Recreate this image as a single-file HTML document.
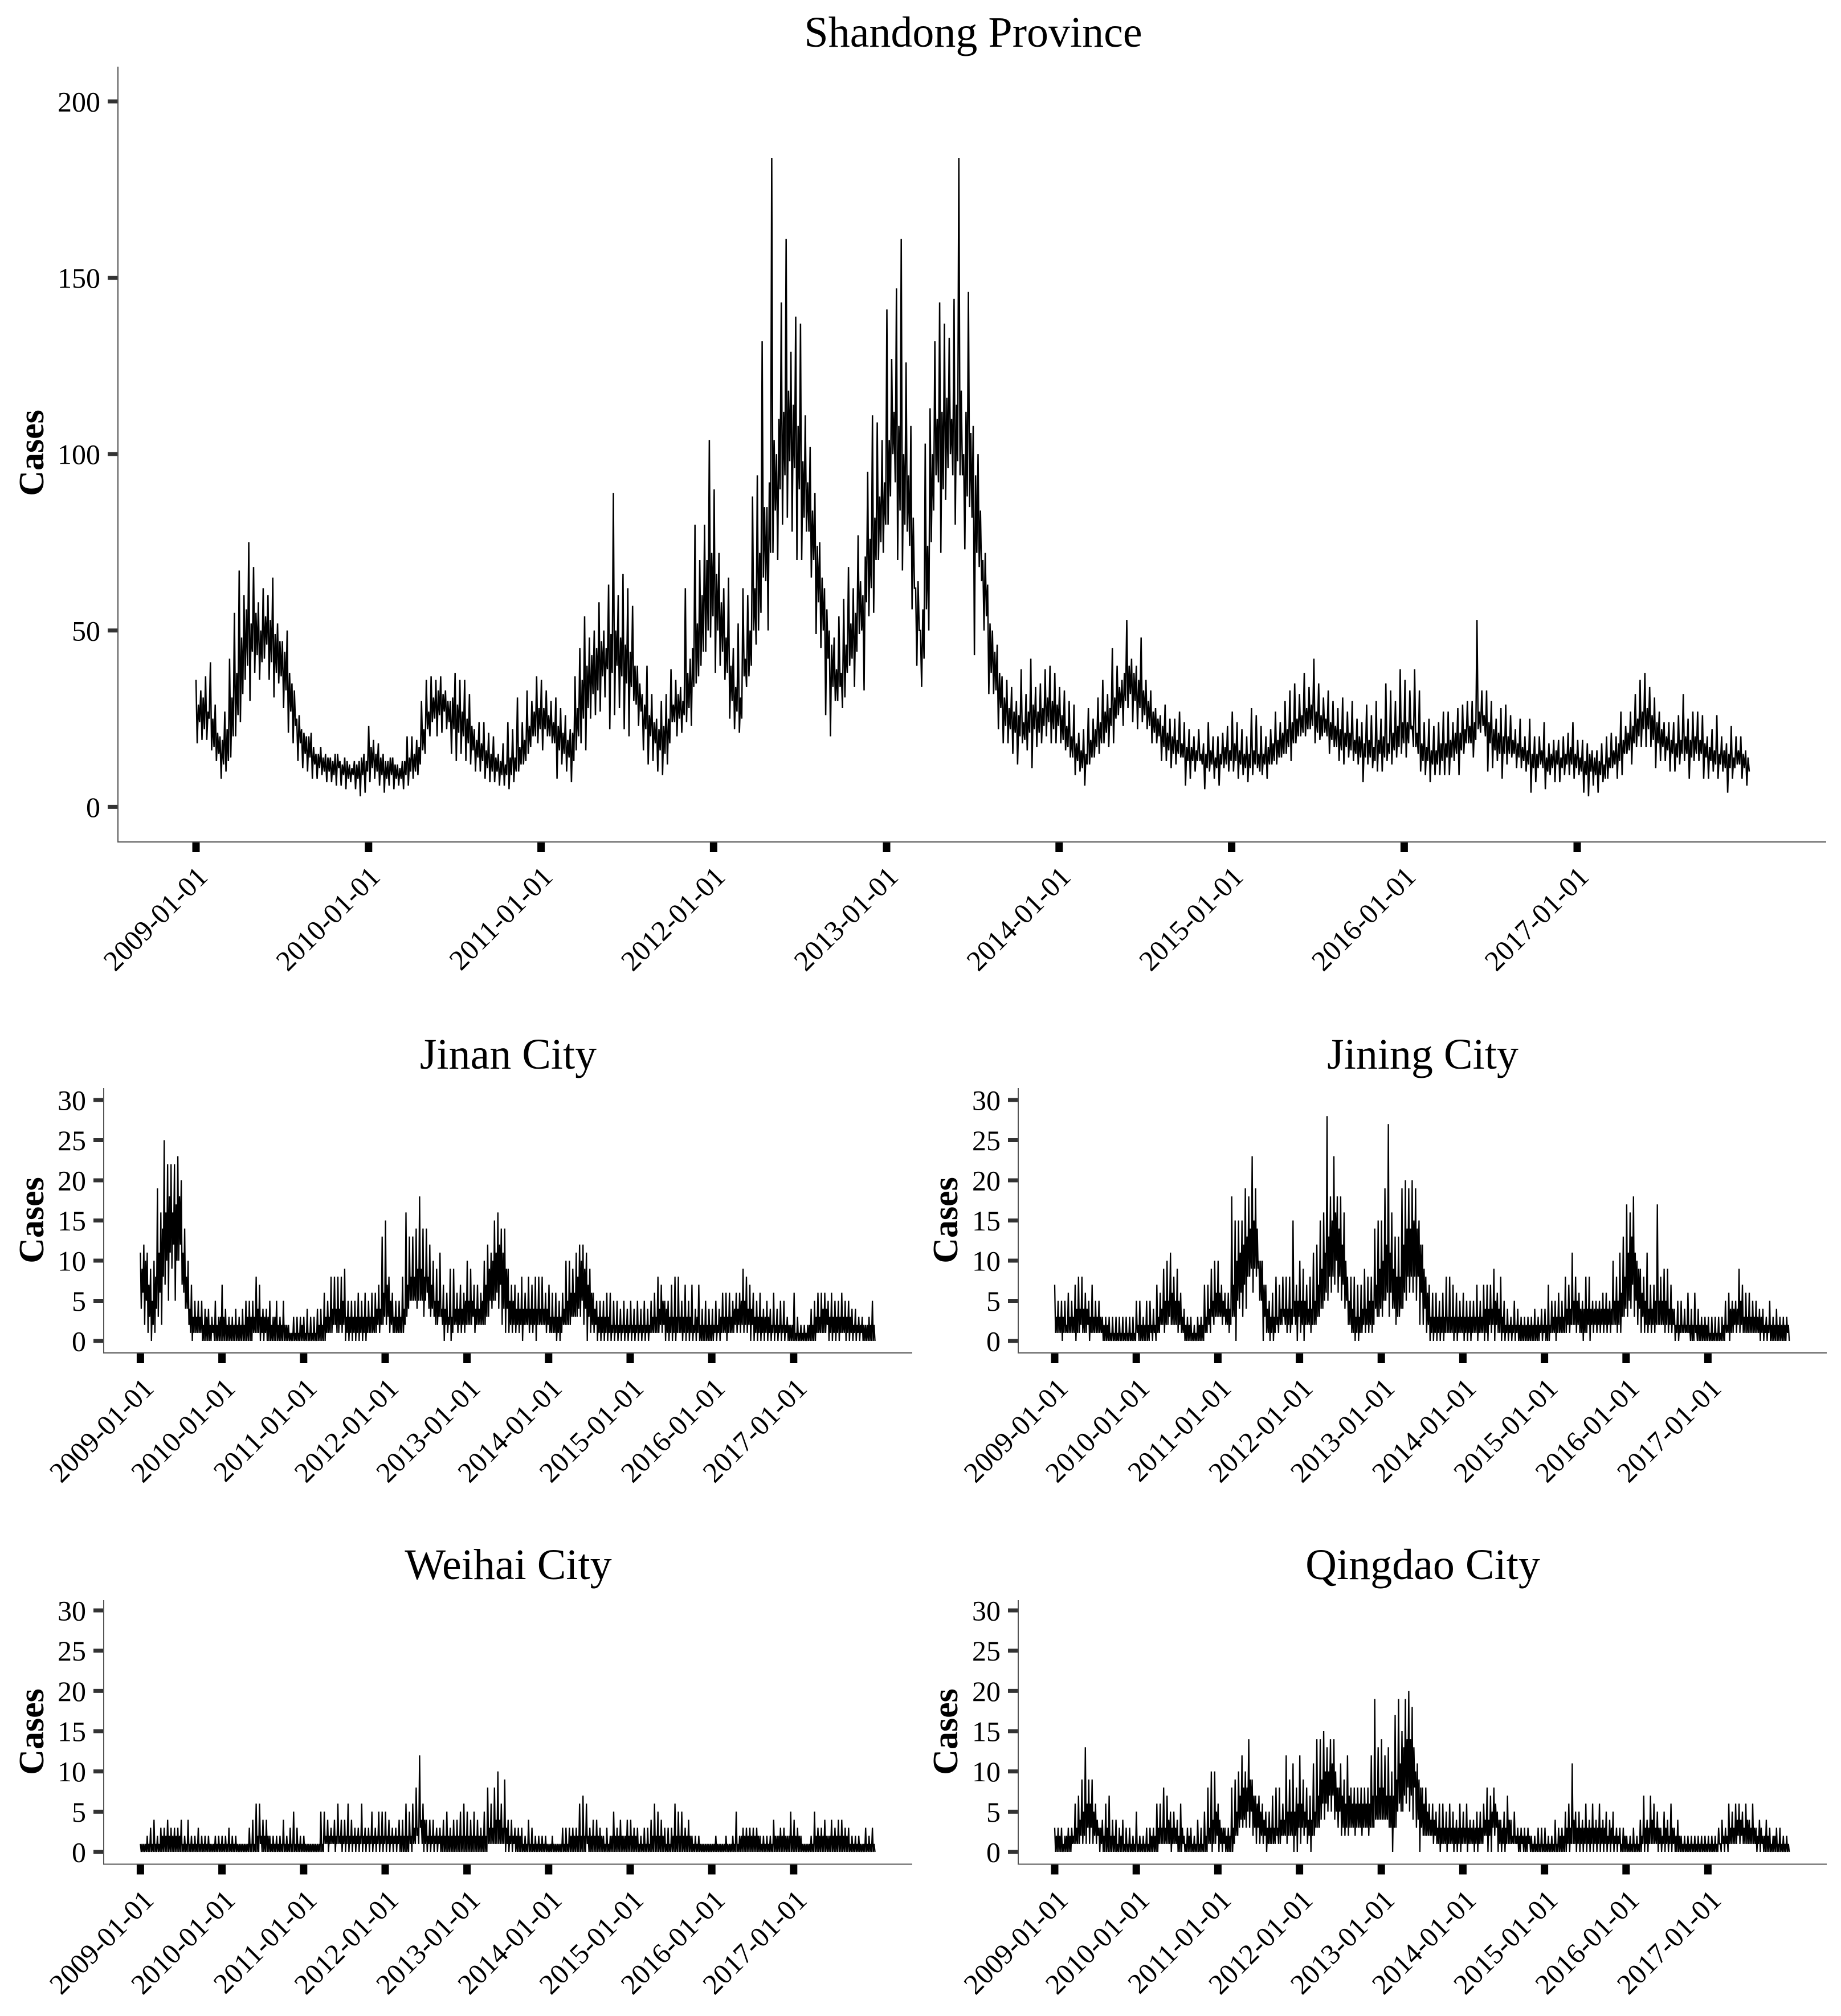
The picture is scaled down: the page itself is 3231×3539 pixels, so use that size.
<!DOCTYPE html>
<html lang="en">
<head>
<meta charset="utf-8">
<title>Cases by region, 2009–2017</title>
<style>
html,body{margin:0;padding:0;background:#fff;width:3231px;height:3539px;overflow:hidden}
svg{display:block}
text{font-family:"Liberation Serif",serif;fill:#000}
</style>
</head>
<body>
<svg id="chart" xmlns="http://www.w3.org/2000/svg" width="3231" height="3539" viewBox="0 0 3231 3539"></svg>
<script>
const xTickLabels = ["2009-01-01","2010-01-01","2011-01-01","2012-01-01","2013-01-01","2014-01-01","2015-01-01","2016-01-01","2017-01-01"];
const provinceYTicks = [0,50,100,150,200];
const cityYTicks = [0,5,10,15,20,25,30];
const seriesStart = "2009-01-01";
const seriesEnd = "2017-12-31";

/* Each *Cases array: high,low readings of the outer spikes, evenly spaced through the period.
   Each *Dense array: high,low readings of the tightly packed middle of the same daily trace. */
const shandongCases = [
36,18,33,19,37,19,41,16,29,13,20,8,27,10,42,14,55,20,67,24,60,36,75,30,68,38,58,36,62,42,60,36,65,31,52,35,47,28,50,21,35,18,25,13,22,11,20,10,21,8,15,8,17,9,15,7,14,7,15,6,13,6,14,5,12,7,13,5,13,3,15,4,
23,7,19,8,18,6,15,4,13,6,14,5,12,6,13,5,20,6,20,8,19,9,30,16,36,22,37,24,36,20,37,21,33,22,30,15,38,13,36,15,36,13,32,12,22,10,24,10,24,8,21,7,20,7,15,6,18,6,24,5,22,7,31,10,24,12,33,15,30,20,37,18,
36,16,33,20,30,18,31,8,28,12,26,10,22,7,37,16,45,18,54,16,48,25,50,26,58,27,50,31,63,22,89,26,60,28,66,22,62,20,57,30,40,23,32,16,40,12,32,13,25,10,30,9,32,12,39,24,36,20,34,21,62,24,42,23,80,35,70,40,80,44,104,48,
90,38,72,40,62,36,65,25,45,22,52,21,62,37,60,37,88,50,94,50,132,65,85,50,184,72,100,70,143,80,161,82,129,78,139,70,137,70,111,78,102,65,89,49,75,45,62,26,50,20,48,30,54,34,59,31,68,40,62,34,77,49,60,33,95,54,111,55,109,70,104,72,
141,80,127,100,147,70,161,67,126,78,108,56,62,40,50,34,103,56,113,75,132,94,143,72,137,87,133,100,144,80,184,94,100,73,146,85,108,43,100,68,70,50,63,32,50,32,46,22,37,18,36,18,34,15,30,12,39,18,32,16,42,11,34,17,35,18,39,20,40,18,38,18,
34,18,33,16,30,14,29,9,21,10,22,6,28,12,25,14,31,15,36,18,32,17,45,18,40,26,36,23,53,28,42,24,40,22,48,24,36,22,33,18,28,18,26,13,29,13,25,11,25,12,27,14,24,6,22,8,20,10,22,13,18,5,24,10,20,8,20,6,21,11,23,10,
27,10,24,8,22,9,20,7,28,9,26,11,23,9,20,8,22,12,27,12,24,14,30,15,33,13,35,18,32,20,38,20,34,22,42,18,35,19,31,21,33,15,30,17,28,13,31,12,27,14,30,13,25,12,24,7,29,12,26,11,30,10,25,10,35,13,33,12,30,14,39,15,
36,14,33,22,39,17,33,10,24,9,25,7,23,9,24,9,27,9,27,9,24,13,28,9,29,15,30,18,30,14,53,22,33,23,33,10,30,11,25,13,28,8,29,12,26,14,22,11,25,11,20,10,25,4,20,7,20,12,24,5,18,9,19,7,19,7,20,9,21,9,24,8,
19,9,19,4,18,3,16,6,16,4,18,7,20,8,21,11,20,8,27,9,23,15,27,12,32,17,36,17,38,17,34,17,31,11,27,13,24,13,24,10,24,10,26,12,32,13,25,8,27,13,27,13,26,8,20,8,22,10,26,8,20,10,18,4,23,8,20,12,20,8,16,6
];
const shandongDense = [
29,24,31,22,27,25,25,17,21,15,19,12,22,13,31,20,38,26,48,32,56,40,52,44,55,43,50,41,54,46,53,41,49,38,47,37,44,33,38,27,33,23,26,18,21,15,20,14,17,12,15,11,14,10,14,10,13,9,15,11,12,9,13,8,11,9,12,8,14,9,13,10,
17,11,15,10,14,9,13,8,14,9,12,8,11,8,13,9,14,10,15,10,17,12,22,15,27,20,31,25,33,26,32,27,30,24,31,22,29,21,27,20,25,18,23,16,19,14,18,13,16,11,15,10,14,10,13,9,12,9,14,9,14,10,17,12,19,13,23,17,27,20,28,22,
28,22,26,20,24,18,23,16,21,15,19,14,21,13,28,20,36,25,40,28,43,32,45,33,47,37,45,39,49,38,50,40,48,37,46,35,44,34,40,29,35,27,29,22,26,20,24,18,22,16,23,15,25,18,29,24,32,25,30,26,38,28,45,34,52,37,60,44,70,50,72,54,
66,50,58,44,48,38,40,30,34,27,31,25,42,34,50,40,62,46,72,55,85,64,92,72,104,84,110,90,112,94,118,98,114,96,108,90,98,82,92,78,84,70,74,58,65,50,56,42,46,34,39,30,38,28,46,38,52,42,55,44,64,50,71,58,76,62,82,70,88,75,92,80,
104,88,112,92,108,84,100,80,94,74,82,62,64,50,56,42,74,50,100,84,110,92,112,90,116,96,110,94,114,98,118,94,112,88,106,82,94,72,84,64,72,54,52,38,44,33,38,28,31,23,28,22,27,21,26,20,24,19,27,21,29,22,27,21,28,23,31,24,30,22,29,23,
26,19,23,17,20,14,18,13,16,11,15,12,19,14,22,17,24,18,27,21,28,23,31,25,34,28,38,30,40,32,38,30,36,28,33,26,30,23,27,21,25,20,23,17,21,16,20,15,19,15,18,14,17,13,17,13,16,13,15,12,15,11,16,12,14,11,15,12,17,12,16,13,
18,13,16,12,15,11,15,11,16,12,15,10,15,12,17,12,18,13,19,14,21,15,22,17,24,18,25,20,26,21,28,22,29,23,27,21,26,20,25,20,24,19,23,17,22,16,21,17,21,16,19,15,20,14,18,14,19,14,17,13,19,15,20,14,18,15,21,16,23,17,24,18,
24,18,23,17,21,15,18,13,17,13,16,12,16,12,18,13,18,14,19,14,21,15,21,16,22,18,23,18,24,19,27,21,26,20,24,18,22,16,21,15,20,15,20,15,19,15,18,14,17,13,16,12,15,11,15,11,16,11,14,10,15,11,16,12,14,11,15,12,17,12,15,11,
14,10,13,9,15,10,14,9,13,9,12,8,14,11,16,12,18,13,19,15,21,16,23,18,25,20,27,22,28,22,26,19,24,18,22,17,20,16,19,15,18,14,19,15,20,15,19,14,20,15,19,15,18,14,17,13,16,12,15,12,16,11,15,11,14,11,16,12,15,11,14,10
];

const jinanCases = [
11,4,12,2,11,1,9,0,10,1,19,3,16,2,25,7,22,5,22,9,22,5,23,10,20,7,14,4,10,2,7,0,5,1,5,1,5,0,4,0,4,0,3,1,5,0,3,0,
7,0,4,0,3,0,3,0,4,0,3,0,4,0,5,0,5,0,5,1,8,1,7,0,4,0,4,0,5,0,3,0,5,0,3,0,5,0,2,0,1,0,3,0,3,0,3,0,
3,0,4,0,3,0,3,0,4,0,4,0,6,0,5,1,8,1,8,2,8,1,8,1,9,0,5,0,5,0,5,0,6,0,5,0,6,0,5,1,6,1,6,1,7,1,13,2,
15,2,8,1,6,1,5,1,5,1,8,1,16,3,13,5,13,5,14,4,18,5,14,3,14,6,12,3,10,3,9,2,11,3,7,0,6,1,9,0,9,2,6,1,7,1,6,1,
10,2,9,2,7,1,7,2,6,2,10,2,12,3,11,4,15,5,16,4,14,2,14,1,9,1,7,1,7,1,6,1,8,0,6,2,8,1,7,1,8,0,8,2,8,2,6,1,
7,1,6,1,6,0,5,0,6,2,10,2,10,2,9,3,11,3,12,3,12,2,11,0,9,1,6,1,5,0,5,0,5,0,6,0,6,0,5,0,5,0,4,0,5,0,4,0,
5,0,4,0,5,0,4,0,5,0,4,0,5,1,6,1,8,1,7,1,5,0,5,0,7,0,8,0,8,1,5,0,7,0,5,0,7,0,4,0,7,0,4,0,5,0,4,0,
4,0,5,0,4,0,6,1,6,0,6,1,5,1,6,1,6,1,9,1,8,1,7,0,6,0,5,0,6,0,4,0,5,0,4,0,6,0,4,0,5,0,5,0,3,0,2,0,
6,0,3,0,2,0,2,0,2,0,4,0,5,0,6,1,6,1,6,1,5,0,6,0,5,0,5,0,6,1,5,0,5,0,4,0,4,0,3,0,3,0,2,0,3,0,5,0
];
const jinanDense = [
9,6,10,5,7,3,5,2,8,4,11,6,14,8,16,10,18,11,16,12,17,10,18,12,11,6,8,4,4,1,3,1,3,1,3,1,2,0,3,0,2,0,2,0,2,0,3,0,
3,0,2,0,2,0,2,0,2,0,2,0,2,0,3,0,3,0,3,1,4,1,3,1,3,1,3,0,2,0,3,0,2,0,2,0,2,0,2,0,1,0,1,0,1,0,2,0,
1,0,1,0,1,0,1,0,2,0,2,0,3,1,3,1,4,2,4,1,4,2,5,2,3,1,3,1,3,1,3,1,3,1,3,1,3,1,3,1,3,1,4,2,4,2,6,3,
7,3,5,2,3,1,3,1,3,1,4,2,7,4,8,5,8,5,9,5,9,5,8,5,8,4,7,4,5,2,5,3,4,2,4,2,3,2,3,1,4,2,4,2,4,2,5,2,
5,2,5,3,4,2,4,2,5,2,7,3,9,5,10,5,11,6,12,7,11,4,9,4,5,2,5,2,4,2,4,2,4,2,4,2,4,2,4,2,4,2,4,2,4,2,4,2,
3,1,3,1,3,1,3,1,4,2,5,2,6,3,6,3,8,4,10,5,9,4,7,3,6,2,4,2,3,1,3,1,3,1,3,1,2,1,2,1,2,1,2,1,2,1,2,1,
2,1,2,1,2,1,2,1,2,1,2,1,3,1,3,1,4,2,5,2,4,1,3,1,3,1,3,1,3,1,3,1,3,1,3,1,2,1,3,1,2,0,2,0,2,0,2,0,
2,1,2,1,3,1,3,1,3,1,3,1,4,2,4,2,5,2,5,2,4,2,4,2,3,1,3,1,3,1,3,1,3,1,2,1,2,1,2,1,2,1,2,1,2,0,2,0,
1,0,1,0,1,0,1,0,2,0,2,0,3,1,3,1,4,1,4,2,3,1,3,1,3,1,3,1,3,1,3,1,3,1,2,1,2,1,2,1,2,0,2,0,2,0,2,0
];

const jiningCases = [
7,1,5,1,5,0,5,1,6,1,5,1,7,0,8,1,8,1,6,1,5,0,7,1,5,1,5,1,3,0,3,0,3,0,3,0,3,0,3,0,3,0,3,0,3,0,3,0,
5,1,5,0,3,0,5,0,5,1,4,1,7,1,6,2,9,1,10,2,11,2,8,2,9,1,6,1,4,0,3,0,3,0,2,0,3,0,3,0,7,1,7,2,9,3,10,3,
10,3,7,2,6,2,6,1,18,3,15,0,15,4,15,3,19,4,18,8,23,6,19,8,10,5,10,0,7,1,5,0,6,0,8,2,7,2,8,3,8,1,8,1,15,3,7,0,
10,1,9,0,7,2,8,1,11,2,12,3,15,4,16,5,28,5,18,6,23,7,18,6,18,5,16,4,8,2,8,1,8,0,7,0,7,1,9,1,8,1,8,1,14,4,15,3,
15,3,19,5,27,3,16,4,13,2,13,3,19,4,20,5,19,6,20,6,19,5,15,2,12,2,8,1,7,0,6,0,6,0,5,0,6,0,8,1,8,1,7,0,6,0,5,1,
6,0,5,0,5,0,5,1,7,0,5,1,7,0,7,0,7,1,9,0,6,1,8,0,5,0,4,0,3,0,5,0,4,0,3,0,3,0,3,0,3,0,4,0,3,0,4,0,
4,0,7,0,5,1,5,0,6,1,5,1,8,1,7,1,11,2,8,1,6,1,5,0,8,1,8,0,5,1,5,1,5,1,6,1,6,1,5,1,10,2,8,1,11,1,13,3,
17,3,16,4,18,3,10,2,9,1,8,1,11,1,7,1,7,1,17,2,8,2,9,1,9,1,7,1,4,0,5,0,5,1,4,1,6,1,4,0,6,1,4,0,3,0,3,0,
3,0,3,0,3,0,3,0,3,0,5,1,6,0,5,1,5,1,9,1,7,1,6,1,6,1,5,1,5,1,4,0,4,0,3,0,5,0,3,0,4,0,3,0,3,0,3,1
];
const jiningDense = [
3,1,3,1,3,1,2,1,3,1,3,1,4,1,4,2,4,1,4,2,3,1,3,1,3,1,3,1,2,0,2,0,1,0,1,0,1,0,1,0,1,0,1,0,1,0,1,0,
2,0,2,0,2,0,2,0,2,0,2,0,3,1,4,2,5,2,5,3,6,2,5,2,5,2,3,1,2,0,2,0,1,0,1,0,2,0,2,0,3,1,4,1,5,2,6,3,
6,3,5,3,4,2,4,2,7,3,10,5,11,6,12,7,13,8,14,9,15,9,14,9,10,5,7,3,4,1,3,1,3,1,3,1,4,2,4,2,4,2,4,2,5,2,5,3,
5,2,5,2,4,2,4,2,5,2,7,3,9,4,11,6,13,8,15,8,16,10,14,8,12,7,10,5,5,2,4,1,3,1,3,1,4,2,4,2,5,2,5,2,7,3,9,4,
10,5,12,6,11,6,9,4,8,3,8,4,12,6,14,8,14,8,15,8,14,8,12,6,9,4,6,2,3,1,3,1,3,1,3,1,3,1,3,1,3,1,3,1,3,1,3,1,
3,1,3,1,3,1,3,1,3,1,3,1,4,1,4,2,4,2,5,2,4,1,3,1,2,1,2,1,2,1,2,1,2,0,2,0,2,0,2,0,2,0,2,0,2,1,2,1,
2,0,2,1,3,1,3,1,3,1,3,1,4,2,4,2,5,2,5,2,4,1,4,1,4,2,4,2,4,2,4,2,4,2,4,2,4,2,4,2,5,2,5,2,6,3,8,4,
11,5,13,7,11,5,9,4,6,3,5,2,4,2,4,2,5,2,5,2,5,2,5,2,4,2,4,2,2,1,2,1,2,1,2,1,2,0,2,0,2,0,2,0,2,0,2,0,
1,0,1,0,1,0,1,0,2,0,2,1,4,1,4,2,4,2,5,2,3,1,3,1,3,1,3,1,3,1,3,1,2,1,2,1,2,0,2,0,2,0,2,0,2,0,2,0
];

const weihaiCases = [
1,0,1,0,2,0,3,0,4,0,2,0,3,0,3,0,4,0,3,0,3,0,3,0,4,0,2,0,4,0,2,0,2,0,3,0,2,0,2,0,2,0,1,0,2,0,2,0,
2,0,2,0,3,0,2,0,2,0,1,0,1,0,1,0,3,0,4,0,6,0,6,1,4,0,4,0,2,0,2,0,2,0,2,0,4,0,2,0,3,0,5,0,3,0,2,0,
2,0,1,0,1,0,1,0,1,0,5,0,5,1,4,0,3,1,4,0,6,1,4,0,4,0,6,0,4,0,3,0,3,0,6,0,3,0,3,0,5,0,3,0,5,0,5,0,
5,0,4,0,3,0,3,0,4,0,4,0,6,0,5,1,6,1,8,2,12,3,6,0,4,0,4,0,4,0,3,0,3,0,4,0,5,0,3,0,4,0,4,0,5,0,6,0,
5,0,4,0,5,0,4,0,3,0,5,0,8,1,6,1,8,1,10,1,6,1,9,0,4,0,4,0,3,0,3,0,3,0,2,0,4,0,3,0,2,0,2,0,2,0,2,0,
1,0,2,0,1,0,1,0,3,0,3,0,3,0,3,0,3,0,6,0,7,0,6,1,3,0,4,0,4,0,3,0,2,0,3,0,2,0,5,0,3,0,4,0,2,0,4,0,
4,0,3,0,3,0,2,0,3,0,3,0,4,0,6,0,5,0,4,0,3,0,3,0,3,0,6,0,5,0,5,0,3,0,4,0,2,0,2,0,2,0,1,0,1,0,1,0,
1,0,2,0,1,0,1,0,2,0,1,0,2,0,5,0,2,0,3,0,3,0,3,0,3,0,3,0,2,0,2,0,2,0,2,0,4,0,2,0,3,0,3,0,2,0,5,0,
4,0,3,0,2,0,1,0,1,0,2,0,5,0,3,0,3,0,4,0,2,0,4,0,3,0,4,0,4,0,3,0,3,0,2,0,2,0,2,0,1,0,3,0,2,0,3,0
];
const weihaiDense = [
1,0,1,0,1,0,1,0,1,0,1,0,2,0,2,0,2,0,2,0,2,0,2,0,1,0,1,0,1,0,1,0,1,0,1,0,1,0,1,0,1,0,1,0,1,0,1,0,
1,0,1,0,1,0,1,0,1,0,1,0,1,0,1,0,1,0,1,0,2,0,2,0,2,0,2,0,1,0,1,0,1,0,1,0,1,0,1,0,1,0,1,0,1,0,1,0,
1,0,1,0,1,0,1,0,1,0,1,0,2,1,2,1,2,1,2,1,2,1,2,1,2,1,2,1,2,1,2,1,2,1,2,1,2,1,2,1,2,1,2,1,2,1,2,1,
2,1,2,1,2,1,2,1,2,0,2,0,2,0,2,0,3,1,3,1,4,1,4,1,2,1,2,1,2,1,2,1,2,0,2,0,2,0,2,0,2,0,2,0,2,0,2,0,
2,0,2,0,2,0,2,0,2,0,2,0,3,1,3,1,4,1,4,1,3,1,3,1,2,1,2,1,2,0,2,0,1,0,1,0,1,0,1,0,1,0,1,0,1,0,1,0,
1,0,1,0,1,0,1,0,1,0,1,0,2,0,2,0,2,0,2,0,2,0,2,0,2,0,2,0,2,0,2,0,1,0,1,0,2,0,2,0,2,0,2,0,2,0,2,0,
2,0,2,0,1,0,1,0,1,0,1,0,2,0,2,0,2,0,2,0,1,0,1,0,2,0,2,0,2,0,2,0,2,0,2,0,1,0,1,0,1,0,1,0,1,0,1,0,
1,0,1,0,1,0,1,0,1,0,1,0,1,0,1,0,2,0,2,0,2,0,2,0,2,0,2,0,1,0,1,0,1,0,1,0,2,0,2,0,2,0,2,0,2,0,2,0,
2,0,2,0,1,0,1,0,1,0,1,0,2,0,2,0,2,0,2,0,2,0,2,0,2,0,2,0,2,0,2,0,1,0,1,0,1,0,1,0,1,0,1,0,1,0,1,0
];

const qingdaoCases = [
3,0,3,0,3,0,2,0,3,0,3,1,6,1,7,1,9,1,13,1,9,1,9,1,6,1,3,0,4,0,6,0,7,0,4,0,4,0,3,0,4,0,3,0,3,0,2,0,
5,0,2,0,2,0,3,0,3,0,3,0,6,0,6,1,8,1,7,1,5,0,5,1,4,0,6,0,2,0,3,0,3,0,2,0,4,0,3,0,5,0,8,1,10,0,10,1,
6,0,3,0,3,0,3,0,8,0,9,2,10,3,12,3,10,3,14,3,9,2,7,1,7,1,6,1,5,0,5,1,7,1,8,2,8,1,6,2,12,1,9,2,11,0,8,0,
12,1,9,2,8,1,7,0,11,2,14,3,14,4,15,4,13,5,14,5,14,4,8,3,11,2,9,2,12,2,8,3,8,2,8,3,8,2,8,3,8,2,12,3,19,4,13,4,
14,4,12,4,13,3,10,0,17,3,19,6,15,5,19,6,20,5,18,4,10,3,9,0,8,2,8,2,6,2,6,1,5,1,6,0,6,1,5,0,6,1,5,0,4,0,6,0,
5,1,6,0,4,1,4,0,5,0,5,1,6,2,8,0,7,0,8,2,5,0,4,0,5,0,7,1,4,1,5,1,3,0,3,1,3,0,3,1,2,0,2,0,3,0,3,0,
3,0,2,0,2,0,4,0,3,0,3,0,5,0,6,0,11,1,5,0,5,0,4,0,6,0,4,0,6,0,4,0,6,0,4,0,5,0,4,0,5,0,3,0,3,0,3,0,
2,0,2,0,3,0,2,0,4,0,7,0,4,0,7,1,6,1,5,0,3,0,5,0,4,0,6,0,3,0,4,0,2,0,2,0,2,0,2,0,2,0,2,0,2,0,2,0,
2,0,2,0,2,0,3,1,4,1,3,1,6,1,5,1,6,1,6,1,5,1,6,1,4,1,6,1,3,0,4,0,2,0,4,0,3,0,2,0,3,0,3,0,2,0,2,0
];
const qingdaoDense = [
2,0,2,0,1,0,2,0,2,0,2,1,3,1,4,2,5,2,6,3,6,3,5,2,4,2,3,1,2,0,3,0,2,0,2,0,1,0,2,0,1,0,1,0,1,0,1,0,
1,0,1,0,1,0,1,0,2,0,2,0,3,1,3,1,3,1,4,1,3,1,3,1,2,0,3,1,1,0,2,0,1,0,1,0,1,0,1,0,2,0,3,1,4,1,5,2,
4,1,3,1,2,0,2,0,3,1,5,2,7,4,8,4,8,5,9,5,7,3,6,3,5,2,4,2,3,1,3,1,3,1,3,1,4,2,4,2,5,2,5,2,5,2,6,3,
6,3,5,3,4,2,4,2,5,3,7,3,9,6,10,6,10,7,11,7,10,5,8,5,7,3,6,3,7,3,6,3,6,3,6,3,6,3,6,3,6,3,7,3,7,4,8,4,
8,4,7,4,7,3,7,3,9,5,11,5,13,7,14,8,14,7,13,8,11,4,8,3,6,2,5,2,4,2,4,2,3,1,3,1,3,1,3,1,3,1,3,1,3,1,3,1,
3,1,3,1,3,1,3,1,3,1,3,1,4,2,4,2,5,3,6,3,4,1,3,1,3,1,4,1,2,1,2,1,2,0,2,0,2,0,2,0,1,0,1,0,1,0,1,0,
1,0,1,0,1,0,1,0,2,0,2,0,3,1,3,1,4,1,3,1,3,1,3,1,3,1,3,1,3,1,3,1,3,1,3,1,2,1,3,1,2,1,2,1,1,0,2,0,
1,0,1,0,1,0,1,0,2,1,3,1,3,1,4,1,3,1,3,1,2,1,3,1,2,1,3,1,2,0,2,0,1,0,1,0,1,0,1,0,1,0,1,0,1,0,1,0,
1,0,1,0,1,0,1,0,2,0,2,0,3,1,3,1,4,2,4,2,3,1,4,1,3,1,3,1,2,1,3,1,2,0,2,0,1,0,2,0,1,0,1,0,1,0,1,0
];

const SVG_NS = "http://www.w3.org/2000/svg";
const chart = document.getElementById("chart");
const MS_PER_DAY = 86400000;

function dayOf(label){
  return (Date.parse(label) - Date.parse(seriesStart)) / MS_PER_DAY;
}

function shape(tag, parent, props){
  const node = document.createElementNS(SVG_NS, tag);
  for (const key in props) node.setAttribute(key, props[key]);
  parent.appendChild(node);
  return node;
}

function weave(outer, dense){
  const merged = [];
  const pairs = Math.max(outer.length, dense.length) / 2;
  for (let p = 0; p < pairs; p++) {
    if (2 * p + 1 < outer.length) merged.push(outer[2 * p], outer[2 * p + 1]);
    if (2 * p + 1 < dense.length) merged.push(dense[2 * p], dense[2 * p + 1]);
  }
  return merged;
}

function drawPanel(cfg, outer, dense, yTicks){
  const xScale = day => cfg.tick0X + day / 365.25 * cfg.yearPx;
  const yScale = v => cfg.zeroY + (cfg.topTickY - cfg.zeroY) * v / yTicks[yTicks.length - 1];

  const group = shape("g", chart, {});
  
  

  const title = shape("text", group, {x: cfg.titleX, y: cfg.titleY, "text-anchor": "middle", "font-size": 76});
  
  
  title.textContent = cfg.title;

  const yTitle = shape("text", group, {transform: "translate(" + cfg.yTitleX + "," + cfg.yTitleY + ") rotate(-90)", "text-anchor": "middle", "font-size": 62, "font-weight": "bold"});
  
  
  yTitle.textContent = "Cases";

  const yAxis = shape("line", group, {x1: cfg.axisX, x2: cfg.axisX, y1: cfg.axisTop, y2: cfg.axisBottom + 1, stroke: "#555", "stroke-width": 2});
  
  

  const xAxis = shape("line", group, {x1: cfg.axisX - 1, x2: cfg.axisRight, y1: cfg.axisBottom, y2: cfg.axisBottom, stroke: "#555", "stroke-width": 2});
  
  

  yTicks.forEach(value => {
    const tick = shape("rect", group, {x: cfg.axisX - 18, y: yScale(value) - 3.5, width: 17, height: 7, fill: "#333"});
    
    
    const label = shape("text", group, {x: cfg.axisX - 31, y: yScale(value) + 17.5, "text-anchor": "end", "font-size": 50});
    
    
    label.textContent = value;
  });

  xTickLabels.forEach(text => {
    const tx = xScale(dayOf(text));
    const tick = shape("rect", group, {x: tx - 6.5, y: cfg.axisBottom + 1, width: 13, height: 17, fill: "#000"});
    
    
    const label = shape("text", group, {transform: "translate(" + (tx + cfg.labelDx) + "," + (cfg.axisBottom + cfg.labelDrop) + ") rotate(-45)", "text-anchor": "end", "font-size": 50});
    
    
    label.textContent = text;
  });

  const span = dayOf(seriesEnd);
  const values = weave(outer, dense);
  const points = values.map((v, i) => xScale(i * span / (values.length - 1)).toFixed(1) + "," + yScale(v).toFixed(1)).join(" ");
  const line = shape("polyline", group, {points: points, fill: "none", stroke: "#000", "stroke-width": cfg.lineWidth, "stroke-linejoin": "miter", "stroke-miterlimit": 2});
  
  
}

drawPanel({slug:"shandong", title:"Shandong Province", titleX:1708, titleY:82, yTitleX:76, yTitleY:795,
  axisX:207, axisTop:117, axisBottom:1478, axisRight:3205, tick0X:344, yearPx:303, zeroY:1416.4, topTickY:178, labelDx:23, labelDrop:64, lineWidth:2.5}, shandongCases, shandongDense, provinceYTicks);
drawPanel({slug:"jinan", title:"Jinan City", titleX:892, titleY:1876, yTitleX:76, yTitleY:2142,
  axisX:182, axisTop:1910, axisBottom:2375, axisRight:1601, tick0X:246.4, yearPx:143.3, zeroY:2354, topTickY:1931, labelDx:26, labelDrop:65, lineWidth:2.3}, jinanCases, jinanDense, cityYTicks);
drawPanel({slug:"jining", title:"Jining City", titleX:2497, titleY:1876, yTitleX:1680, yTitleY:2142,
  axisX:1787, axisTop:1910, axisBottom:2375, axisRight:3206, tick0X:1851, yearPx:143.3, zeroY:2354, topTickY:1931, labelDx:26, labelDrop:65, lineWidth:2.3}, jiningCases, jiningDense, cityYTicks);
drawPanel({slug:"weihai", title:"Weihai City", titleX:892, titleY:2772, yTitleX:76, yTitleY:3040,
  axisX:182, axisTop:2809, axisBottom:3272.5, axisRight:1601, tick0X:246.4, yearPx:143.3, zeroY:3251, topTickY:2827, labelDx:26, labelDrop:66, lineWidth:2.3}, weihaiCases, weihaiDense, cityYTicks);
drawPanel({slug:"qingdao", title:"Qingdao City", titleX:2497, titleY:2772, yTitleX:1680, yTitleY:3040,
  axisX:1787, axisTop:2809, axisBottom:3272.5, axisRight:3206, tick0X:1851, yearPx:143.3, zeroY:3251, topTickY:2827, labelDx:26, labelDrop:66, lineWidth:2.3}, qingdaoCases, qingdaoDense, cityYTicks);
</script>
</body>
</html>
